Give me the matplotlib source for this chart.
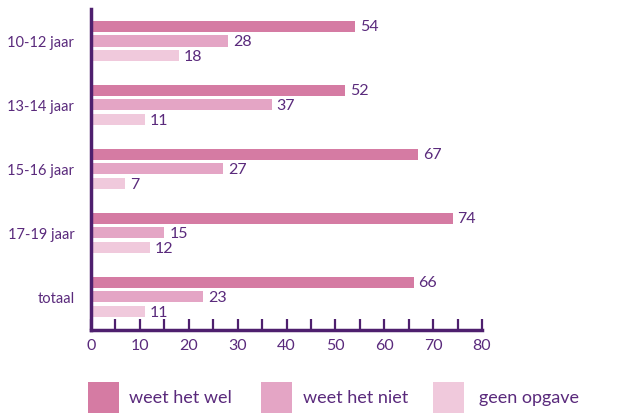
import matplotlib
matplotlib.use("Agg")
import matplotlib.pyplot as plt
from matplotlib.patches import Rectangle
import numpy as np

categories = ["10-12 jaar", "13-14 jaar", "15-16 jaar", "17-19 jaar", "totaal"]
series_names = ["weet het wel", "weet het niet", "geen opgave"]
weet_wel = [54, 52, 67, 74, 66]
weet_niet = [28, 37, 27, 15, 23]
geen_opgave = [18, 11, 7, 12, 11]
x_ticks = [0, 10, 20, 30, 40, 50, 60, 70, 80]

colors = ["#d57ba3", "#e4a5c5", "#f0c9dc"]
purple = "#4e1f6e"
text_col = "#5a2a7c"

plt.rcParams['font.family'] = ['Lato', 'DejaVu Sans']

fig = plt.figure(figsize=(6.34, 4.14), dpi=100)
ax = fig.add_axes([91/634, 1-331/414, (482-91)/634, (331-10)/414])

y = np.arange(len(categories))
pitch = 0.234
h = 0.172
for k, vals in enumerate([weet_wel, weet_niet, geen_opgave]):
    pos = y + (k - 1) * pitch
    ax.barh(pos, vals, height=h, color=colors[k], edgecolor='none')
    for p, v in zip(pos, vals):
        ax.text(v + 1.0, p, str(v), va='center', ha='left', fontsize=11.5, color=text_col)

ax.set_xlim(0, 80)
ax.set_ylim(4.516, -0.5)
ax.set_yticks(y)
ax.set_yticklabels(categories, fontsize=10.5, color=text_col)
ax.tick_params(axis='y', length=0, pad=12)
ax.set_xticks(x_ticks)
ax.set_xticklabels([str(t) for t in x_ticks], fontsize=11.5, color=text_col)
ax.set_xticks(np.arange(5, 80, 10), minor=True)
ax.tick_params(axis='x', which='both', direction='in', length=8, width=1.6, color=purple, pad=6)

for s in ['top', 'right']:
    ax.spines[s].set_visible(False)
for s in ['left', 'bottom']:
    ax.spines[s].set_color(purple)
    ax.spines[s].set_linewidth(2.5)

# legend
legend_x = [88, 261, 433]
text_off = [41, 42, 46]
for k, name in enumerate(series_names):
    x0 = legend_x[k] / 634
    fig.patches.append(Rectangle((x0, 0), 31/634, 31/414, transform=fig.transFigure,
                                 facecolor=colors[k], edgecolor='none'))
    fig.text(x0 + text_off[k]/634, 1 - 398/414, name, fontsize=13, color=text_col, va='center', ha='left')

fig.savefig("out.png", dpi=100)
